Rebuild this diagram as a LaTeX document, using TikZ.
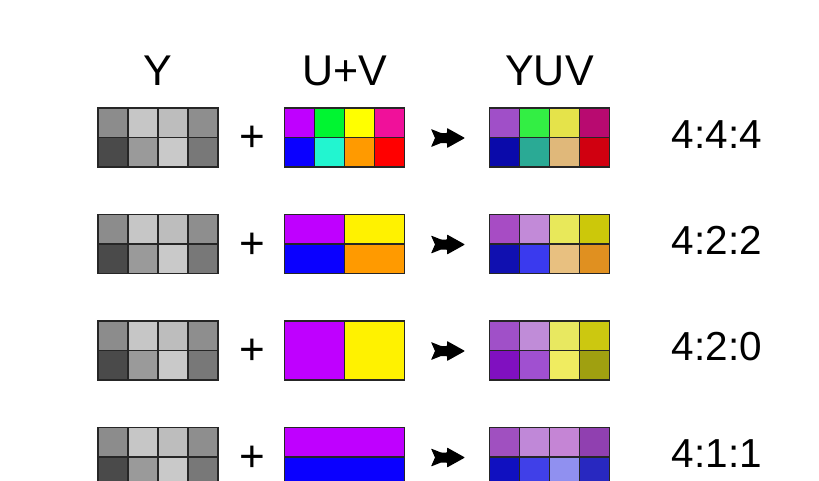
\documentclass[tikz,border=0pt]{standalone}
\usepackage{fontspec}
\setmainfont{Liberation Sans}
\newcommand\gcells[4]{% x, y, top colours, bottom colours (HTML)
  \foreach \cl [count=\i from 0] in {#3}{\definecolor{cc}{HTML}{\cl}\fill[cc] ({#1+30*\i},{#2}) rectangle ++(30,29.5);}
  \foreach \cl [count=\i from 0] in {#4}{\definecolor{cc}{HTML}{\cl}\fill[cc] ({#1+30*\i},{#2+29.5}) rectangle ++(30,29.5);}
  \draw[gline] ({#1},{#2+29.5}) -- ++(120,0);
  \foreach \k in {1,2,3}{\draw[gline] ({#1+30*\k},{#2}) -- ++(0,59);}
  \draw[gline] ({#1},{#2}) rectangle ++(120,59);
}
\newcommand\ycells[2]{\gcells{#1}{#2}{8C8C8C,C6C6C6,BDBDBD,8E8E8E}{4A4A4A,9A9A9A,C9C9C9,787878}}
\newcommand\fletch[2]{\fill[black,rounded corners=0.6pt] (#1,#2) ++(1,-9) -- ++(10,4) -- ++(6,0) -- ++(0,-5) -- ++(18,10) -- ++(-18,10) -- ++(0,-5) -- ++(-6,0) -- ++(-10,4) -- ++(4,-9) -- cycle;}
\begin{document}
\begin{tikzpicture}[x=1pt,y=-1pt,
  gline/.style={line width=1.5pt,black!85},
  head/.style={font=\fontsize{43}{43}\selectfont,inner sep=0pt},
  ratio/.style={font=\fontsize{40.5}{40.5}\selectfont,inner sep=0pt},
  plus/.style={font=\fontsize{44}{44}\selectfont,inner sep=0pt}]
\useasboundingbox (0,0) rectangle (819,480);
\clip (0,0) rectangle (819,480);
\fill[white] (0,0) rectangle (819,480);
% headers
\node[head] (hy) at (158,71) {Y};
\node[head] (huv) at (344.5,71) {U+V};
\node[head] (hyuv) at (549.5,71) {YUV};
% Row 1 : 4:4:4
\ycells{98}{108}
\gcells{284.5}{108}{BF00FF,00F531,FFFF00,F0109A}{0A00FF,22F5D0,FF9A00,FF0000}
\gcells{489.5}{108}{A04FC8,33EE44,E5E34A,B80A70}{0A0AAA,2AAA95,E0B87A,D00010}
\node[plus] (p1) at (252,139) {+};
\fletch{430}{138}
\node[ratio] (r1) at (717,134.5) {4:4:4};
% Row 2 : 4:2:2
\ycells{98}{214.5}
\fill[fill={rgb,255:red,191;green,0;blue,255}] (284.5,214.5) rectangle ++(60,29.5);
\fill[yellow] (344.5,214.5) rectangle ++(60,29.5);
\fill[fill={rgb,255:red,10;green,0;blue,255}] (284.5,244) rectangle ++(60,29.5);
\fill[fill={rgb,255:red,255;green,154;blue,0}] (344.5,244) rectangle ++(60,29.5);
\draw[gline] (284.5,244) -- ++(120,0) (344.5,214.5) -- ++(0,59);
\draw[gline] (284.5,214.5) rectangle ++(120,59);
\gcells{489.5}{214.5}{A74CC4,C28AD8,E8E85A,CCC80A}{1010B0,3A3AEE,E8C080,E09020}
\node[plus] (p2) at (252,245.5) {+};
\fletch{430}{244.5}
\node[ratio] (r2) at (717,240.5) {4:2:2};
% Row 3 : 4:2:0
\ycells{98}{321}
\fill[fill={rgb,255:red,191;green,0;blue,255}] (284.5,321) rectangle ++(60,59);
\fill[yellow] (344.5,321) rectangle ++(60,59);
\draw[gline] (344.5,321) -- ++(0,59);
\draw[gline] (284.5,321) rectangle ++(120,59);
\gcells{489.5}{321}{A050C8,C08CD8,E8E860,CCC810}{8010C0,A050D0,F0EC60,A0A010}
\node[plus] (p3) at (252,352) {+};
\fletch{430}{351}
\node[ratio] (r3) at (717,347) {4:2:0};
% Row 4 : 4:1:1
\ycells{98}{427.5}
\fill[fill={rgb,255:red,191;green,0;blue,255}] (284.5,427.5) rectangle ++(120,29.5);
\fill[fill={rgb,255:red,10;green,0;blue,255}] (284.5,457) rectangle ++(120,29.5);
\draw[gline] (284.5,457) -- ++(120,0);
\draw[gline] (284.5,427.5) rectangle ++(120,59);
\gcells{489.5}{427.5}{A050C0,C088D8,C585D5,9040B0}{1010C0,4040E8,9090F0,2828C0}
\node[plus] (p4) at (252,458.5) {+};
\fletch{430}{457.5}
\node[ratio] (r4) at (717,453.5) {4:1:1};
\end{tikzpicture}
\end{document}
